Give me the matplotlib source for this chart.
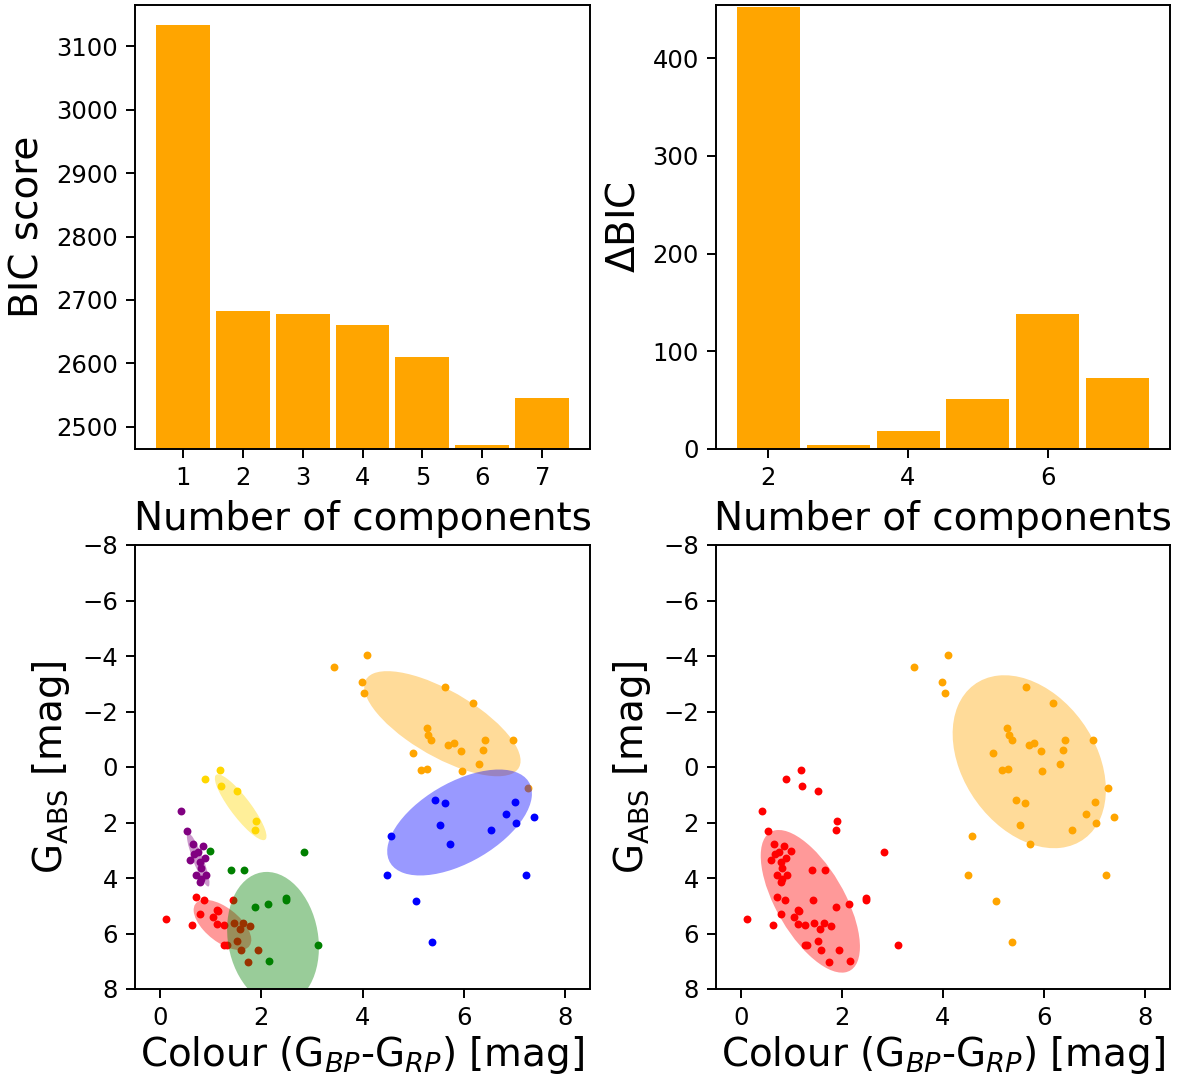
import numpy as np
import matplotlib
matplotlib.use("Agg")
import matplotlib.pyplot as plt
from matplotlib.patches import Ellipse

# ---------------- data ----------------
n_components = [1, 2, 3, 4, 5, 6, 7]
bic_score = [3134, 2682, 2678, 2660, 2610, 2472, 2545]
delta_components = [2, 3, 4, 5, 6, 7]
delta_bic = [452, 4, 18, 51, 138, 73]

gold_x = [1.18, 0.88, 1.20, 1.52, 1.89, 1.88]
gold_y = [0.10, 0.44, 0.68, 0.87, 1.96, 2.26]

purple_x = [0.41, 0.53, 0.65, 0.84, 0.75, 0.67, 0.88, 0.59, 0.79, 0.80, 0.71, 0.90, 0.80, 0.78]
purple_y = [1.58, 2.29, 2.76, 2.83, 3.05, 3.12, 3.27, 3.34, 3.44, 3.63, 3.88, 3.88, 4.03, 4.13]

green_x = [0.98, 1.40, 1.66, 2.84, 2.48, 2.48, 2.13, 1.87, 2.16, 3.11]
green_y = [3.01, 3.70, 3.71, 3.07, 4.72, 4.78, 4.94, 5.05, 6.99, 6.43]

red_x = [0.70, 0.86, 1.43, 1.13, 1.15, 0.78, 1.04, 0.12, 0.63, 1.12, 1.26,
         1.45, 1.64, 1.77, 1.57, 1.26, 1.31, 1.52, 1.59, 1.94, 1.74]
red_y = [4.69, 4.78, 4.81, 5.14, 5.19, 5.29, 5.40, 5.49, 5.71, 5.67, 5.70,
         5.61, 5.62, 5.73, 5.83, 6.42, 6.43, 6.27, 6.58, 6.58, 7.03]

orange_x = [4.09, 3.43, 3.99, 4.03, 5.64, 6.19, 5.27, 5.30, 5.36, 5.70, 5.81,
            5.94, 6.42, 6.98, 6.38, 4.99, 6.31, 5.16, 5.28, 5.97, 7.28]
orange_y = [-4.03, -3.60, -3.08, -2.65, -2.87, -2.32, -1.41, -1.16, -0.96, -0.81, -0.87,
            -0.57, -0.96, -0.97, -0.61, -0.52, -0.12, 0.10, 0.08, 0.16, 0.74]

blue_x = [5.44, 5.63, 7.02, 6.84, 7.39, 5.53, 7.03, 6.55, 4.57, 5.73, 4.49, 7.24, 5.06, 5.37]
blue_y = [1.20, 1.29, 1.26, 1.71, 1.80, 2.10, 2.01, 2.27, 2.50, 2.77, 3.89, 3.89, 4.83, 6.30]

# Gaussian components (centre, shape matrix) for 6-component fit
gmm6_colors = ["gold", "purple", "red", "green", "orange", "blue"]
gmm6_means = [(1.59, 1.45), (0.75, 3.34), (1.23, 5.69), (2.23, 6.18), (5.58, -1.56), (5.92, 2.00)]
gmm6_covs = [
    [[0.261, 0.533], [0.533, 1.408]],
    [[0.0502, 0.1907], [0.1907, 0.933]],
    [[0.325, 0.307], [0.307, 0.820]],
    [[0.824, 0.296], [0.296, 5.755]],
    [[2.393, 2.064], [2.064, 3.587]],
    [[2.049, -1.490], [-1.490, 3.645]],
]
# 2-component fit
gmm2_colors = ["red", "orange"]
gmm2_means = [(1.37, 4.84), (5.71, -0.19)]
gmm2_covs = [
    [[0.967, 1.609], [1.609, 6.606]],
    [[2.307, 1.536], [1.536, 9.711]],
]

# ---------------- figure ----------------
DPI = 175
fig = plt.figure(figsize=(1182 / DPI, 1079 / DPI), dpi=DPI)
W, H = 1182, 1079


def box(l, t, r, b):
    return [l / W, 1 - b / H, (r - l) / W, (b - t) / H]


ax1 = fig.add_axes(box(135, 5, 590, 449))
ax2 = fig.add_axes(box(716, 5, 1170, 449))
ax3 = fig.add_axes(box(135, 545, 590, 989))
ax4 = fig.add_axes(box(716, 545, 1170, 989))

LBL = 16
TCK = 10

ax1.bar(n_components, bic_score, width=0.9, color="orange")
ax1.set_ylim(2465, 3165)
ax1.set_xticks(n_components)
ax1.set_xlabel("Number of components", fontsize=LBL)
ax1.set_ylabel("BIC score", fontsize=LBL)

ax2.bar(delta_components, delta_bic, width=0.9, color="orange")
ax2.set_ylim(0, 454.5)
ax2.set_xlabel("Number of components", fontsize=LBL)
ax2.set_ylabel(r"$\Delta$BIC", fontsize=LBL)


def draw_ellipse(ax, mean, cov, color):
    vals, vecs = np.linalg.eigh(np.array(cov))
    v = vecs[:, 1]
    angle = np.degrees(np.arctan2(v[1], v[0]))
    e = Ellipse(mean, 2 * np.sqrt(vals[1]), 2 * np.sqrt(vals[0]), angle=angle,
                color=color, alpha=0.4, lw=0)
    ax.add_patch(e)


S = 5
groups6 = [(gold_x, gold_y, "gold"), (purple_x, purple_y, "purple"),
           (red_x, red_y, "red"), (green_x, green_y, "green"),
           (orange_x, orange_y, "orange"), (blue_x, blue_y, "blue")]
for gx, gy, c in groups6:
    ax3.scatter(gx, gy, s=S, color=c, zorder=1)
for m, cv, c in zip(gmm6_means, gmm6_covs, gmm6_colors):
    draw_ellipse(ax3, m, cv, c)

red2_x = gold_x + purple_x + green_x + red_x
red2_y = gold_y + purple_y + green_y + red_y
org2_x = orange_x + blue_x
org2_y = orange_y + blue_y
ax4.scatter(red2_x, red2_y, s=S, color="red")
ax4.scatter(org2_x, org2_y, s=S, color="orange")
for m, cv, c in zip(gmm2_means, gmm2_covs, gmm2_colors):
    draw_ellipse(ax4, m, cv, c)

for ax in (ax3, ax4):
    ax.set_xlim(-0.5, 8.5)
    ax.set_ylim(8, -8)
    ax.set_xticks([0, 2, 4, 6, 8])
    ax.set_yticks([-8, -6, -4, -2, 0, 2, 4, 6, 8])
    ax.set_xlabel(r"Colour (G$_{BP}$-G$_{RP}$) [mag]", fontsize=LBL, labelpad=1.5)
    ax.set_ylabel(r"G$_{\rm ABS}$ [mag]", fontsize=LBL)

for ax in (ax1, ax2, ax3, ax4):
    ax.tick_params(labelsize=TCK)

fig.savefig("out.png", dpi=DPI)
